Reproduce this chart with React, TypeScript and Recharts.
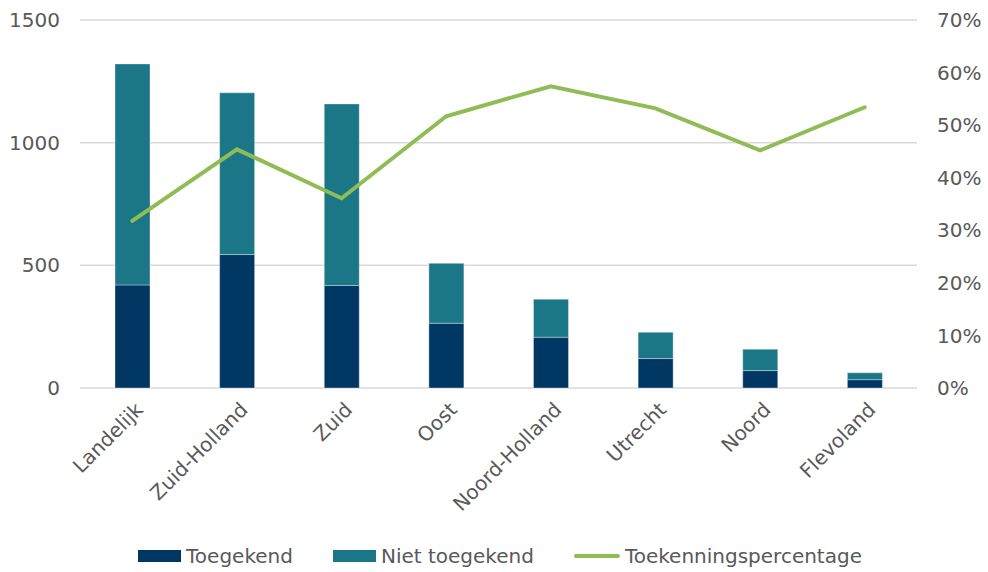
import React from "react";
import {
  ComposedChart,
  Bar,
  Line,
  XAxis,
  YAxis,
  CartesianGrid,
  Legend,
} from "recharts";

const categories = [
  "Landelijk",
  "Zuid-Holland",
  "Zuid",
  "Oost",
  "Noord-Holland",
  "Utrecht",
  "Noord",
  "Flevoland",
];
const toegekend = [420, 544, 418, 264, 207, 120, 71, 34];
const nietToegekend = [901, 659, 740, 244, 155, 107, 87, 28];
const percentage = [0.318, 0.454, 0.361, 0.517, 0.574, 0.532, 0.452, 0.534];

const leftTicks = [0, 500, 1000, 1500];
const rightTicks = [0, 0.1, 0.2, 0.3, 0.4, 0.5, 0.6, 0.7];

const data = categories.map((name, i) => ({
  name,
  toegekend: toegekend[i],
  nietToegekend: nietToegekend[i],
  percentage: percentage[i],
}));

const FONT = "'DejaVu Sans', Verdana, sans-serif";
const TEXT = "#595959";
const C_TOE = "#003763";
const C_NIET = "#1b7787";
const C_LINE = "#8fbc55";
const FS = 20;

const XTick = (props: any) => {
  const { x, y, payload } = props;
  return (
    <g transform={`translate(${x + 12},${y + 23})`}>
      <text
        x={0}
        y={0}
        textAnchor="end"
        transform="rotate(-45)"
        fill={TEXT}
        fontSize={FS}
        fontFamily={FONT}
      >
        {payload.value}
      </text>
    </g>
  );
};

const LegendContent = () => {
  const items = [
    { label: "Toegekend", color: C_TOE, type: "rect" },
    { label: "Niet toegekend", color: C_NIET, type: "rect" },
    { label: "Toekenningspercentage", color: C_LINE, type: "line" },
  ];
  return (
    <div
      style={{
        display: "flex",
        justifyContent: "center",
        alignItems: "center",
        height: 36,
        paddingTop: 3,
        boxSizing: "border-box",
        fontFamily: FONT,
        fontSize: FS,
        color: TEXT,
        paddingLeft: 12,
      }}
    >
      {items.map((it, i) => (
        <div
          key={it.label}
          style={{
            display: "flex",
            alignItems: "center",
            marginLeft: i === 0 ? 0 : 40,
          }}
        >
          {it.type === "rect" ? (
            <div style={{ width: 43, height: 12, background: it.color }} />
          ) : (
            <div
              style={{
                width: 46,
                height: 4,
                borderRadius: 2,
                background: it.color,
              }}
            />
          )}
          <span style={{ marginLeft: 5, whiteSpace: "nowrap" }}>{it.label}</span>
        </div>
      ))}
    </div>
  );
};

export default function App() {
  return (
    <div style={{ position: "absolute", left: 0, top: 0, width: 988, height: 572, background: "#fff" }}>
      <ComposedChart
        width={988}
        height={572}
        data={data}
        margin={{ top: 20, right: 0, left: 0, bottom: 0 }}
        barSize={35}
      >
        <CartesianGrid
          yAxisId="left"
          vertical={false}
          stroke="#d9d9d9"
          strokeWidth={1.5}
        />
        <XAxis
          dataKey="name"
          axisLine={false}
          tickLine={false}
          tickSize={0}
          tickMargin={0}
          height={148}
          interval={0}
          tick={<XTick />}
        />
        <YAxis
          yAxisId="left"
          orientation="left"
          width={80}
          domain={[0, 1500]}
          ticks={leftTicks}
          axisLine={false}
          tickLine={false}
          tickSize={0}
          tickMargin={20}
          tick={{ fill: TEXT, fontSize: FS, fontFamily: FONT }}
        />
        <YAxis
          yAxisId="right"
          orientation="right"
          width={71}
          domain={[0, 0.7]}
          ticks={rightTicks}
          axisLine={false}
          tickLine={false}
          tickSize={0}
          tickMargin={20}
          tickFormatter={(v: number) => `${Math.round(v * 100)}%`}
          tick={{ fill: TEXT, fontSize: FS, fontFamily: FONT, textAnchor: "start" }}
        />
        <Legend verticalAlign="bottom" content={<LegendContent />} wrapperStyle={{ height: 36 }} />
        <Bar
          yAxisId="left"
          dataKey="toegekend"
          name="Toegekend"
          stackId="a"
          fill={C_TOE}
          stroke="rgba(255,255,255,0.35)"
          strokeWidth={1}
          isAnimationActive={false}
        />
        <Bar
          yAxisId="left"
          dataKey="nietToegekend"
          name="Niet toegekend"
          stackId="a"
          fill={C_NIET}
          stroke="rgba(255,255,255,0.35)"
          strokeWidth={1}
          isAnimationActive={false}
        />
        <Line
          yAxisId="right"
          dataKey="percentage"
          name="Toekenningspercentage"
          type="linear"
          stroke={C_LINE}
          strokeWidth={4}
          strokeLinecap="round"
          dot={false}
          activeDot={false}
          isAnimationActive={false}
        />
      </ComposedChart>
    </div>
  );
}
